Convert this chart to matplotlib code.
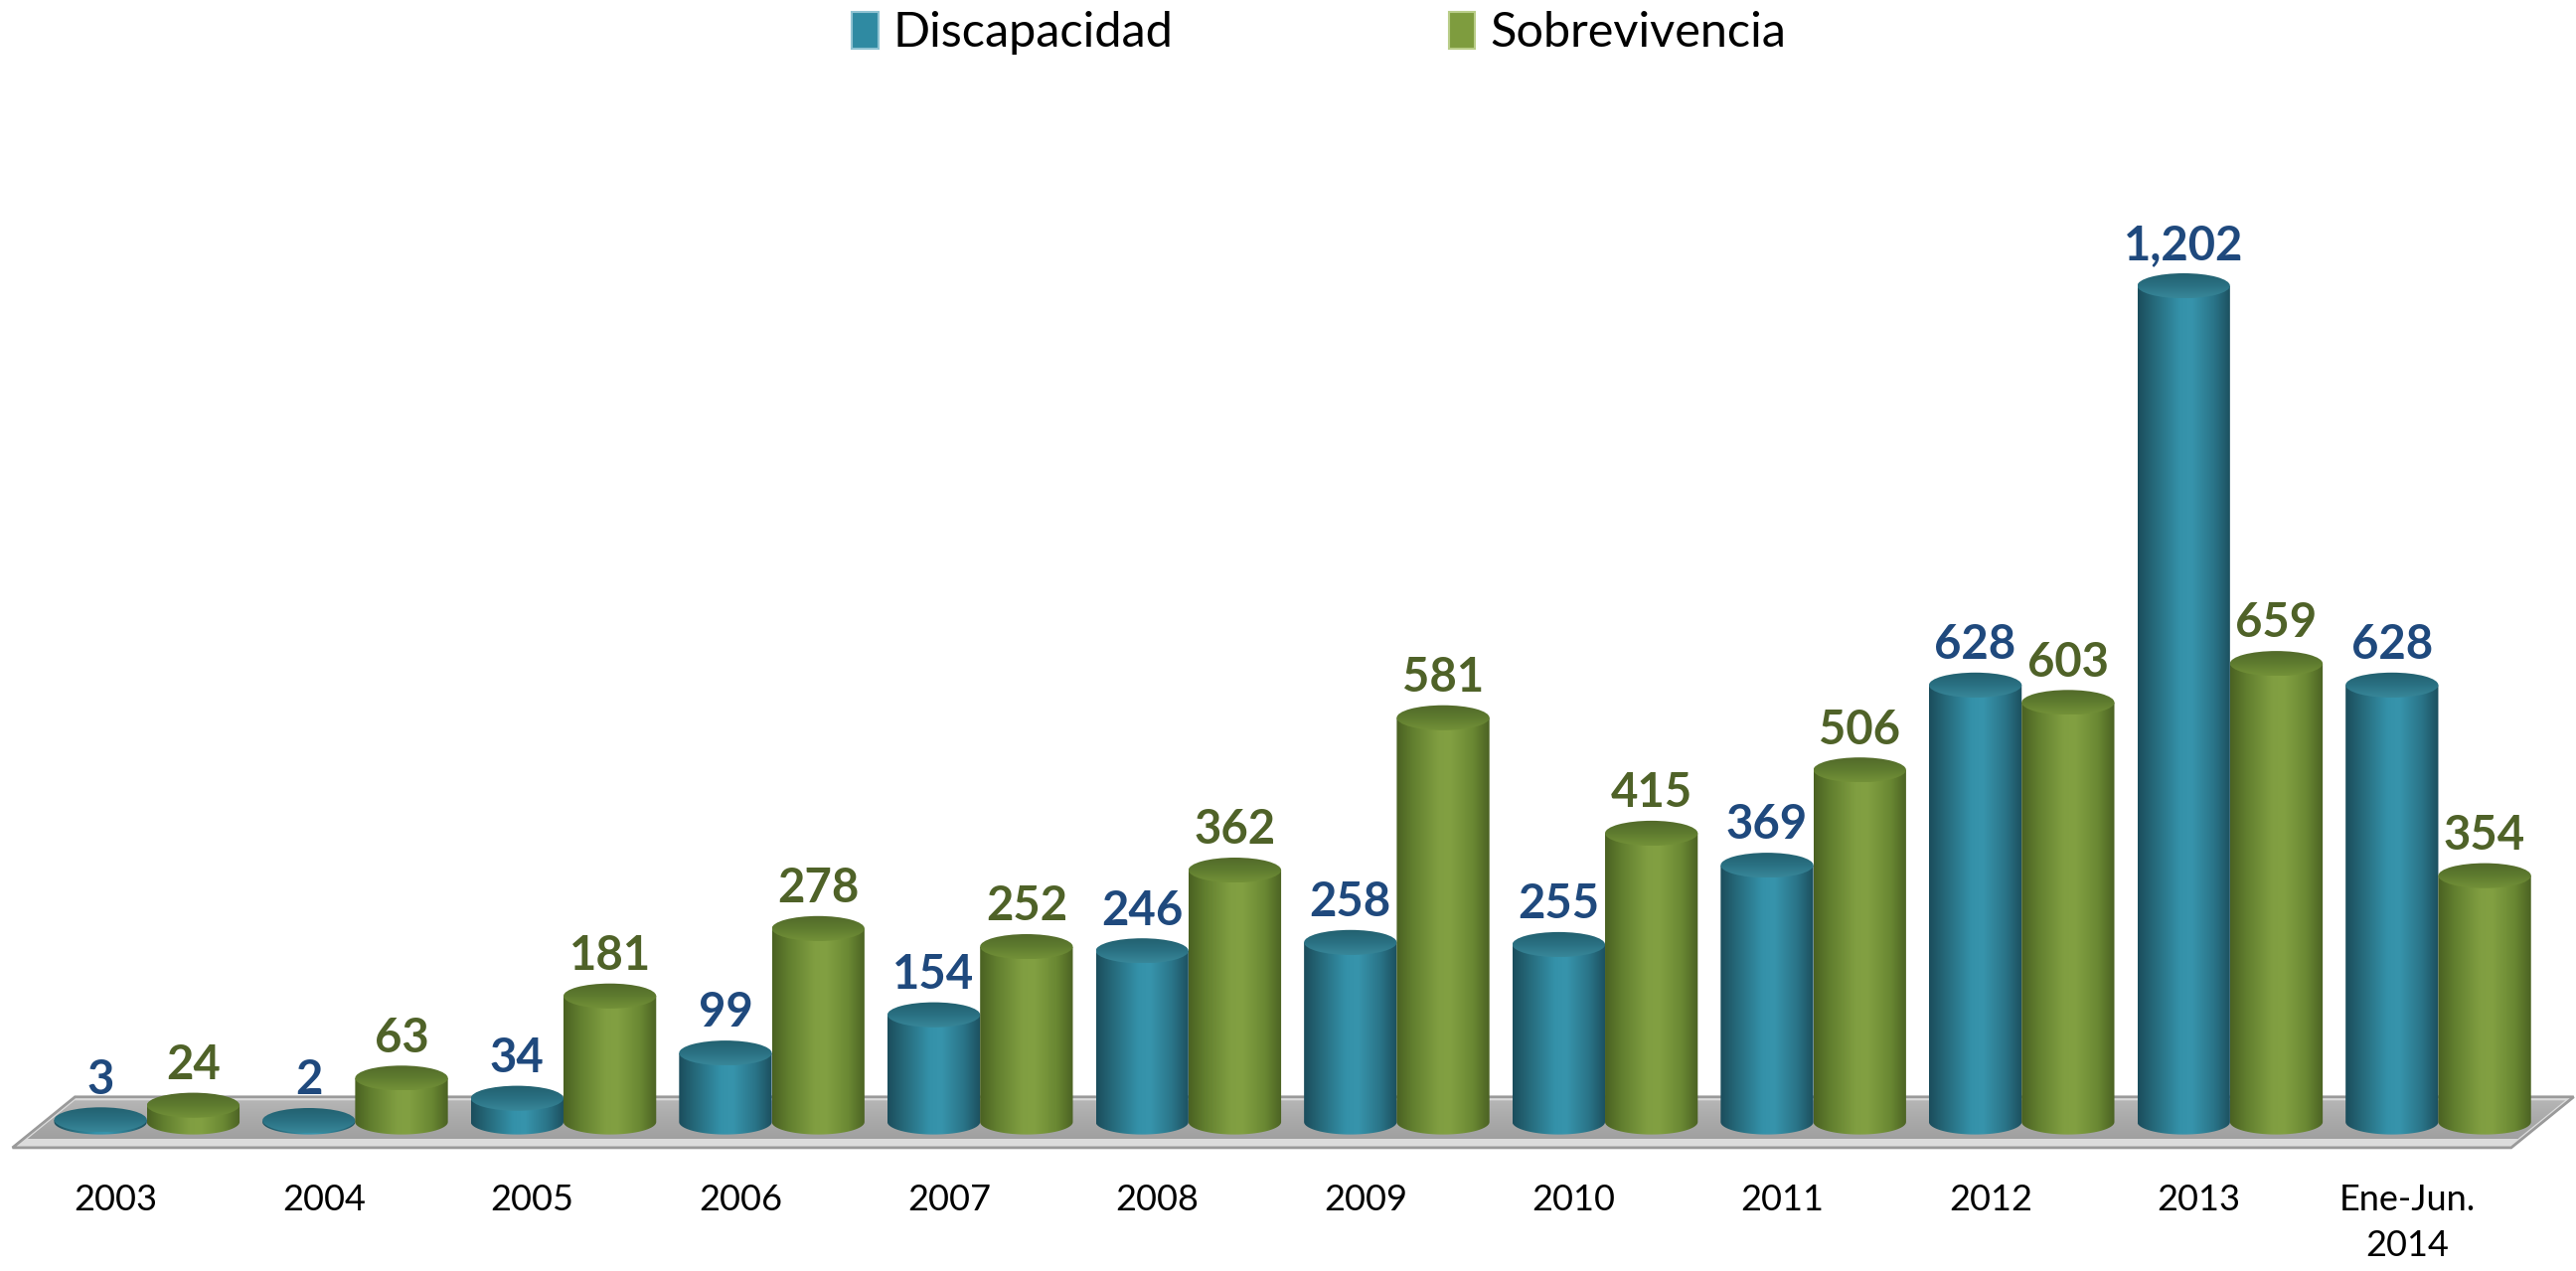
import numpy as np
import matplotlib.pyplot as plt
from matplotlib.patches import Ellipse, PathPatch, Polygon, Patch
from matplotlib.path import Path
from matplotlib.colors import LinearSegmentedColormap

plt.rcParams['font.family'] = ['Lato', 'DejaVu Sans']

# --- datos ---
categorias = ["2003", "2004", "2005", "2006", "2007", "2008", "2009",
              "2010", "2011", "2012", "2013", "Ene-Jun.\n2014"]
discapacidad = [3, 2, 34, 99, 154, 246, 258, 255, 369, 628, 1202, 628]
sobrevivencia = [24, 63, 181, 278, 252, 362, 581, 415, 506, 603, 659, 354]
series = ["Discapacidad", "Sobrevivencia"]

# --- estilo ---
W = 0.445          # ancho de cada cilindro (unidades de categoria)
ELL_H = 36         # alto de la elipse (unidades de datos)
azul_cmap = LinearSegmentedColormap.from_list(
    "azul", [(0, "#1B4D5C"), (0.18, "#266A7B"), (0.45, "#3491A9"),
             (0.58, "#3794AC"), (0.82, "#2A7488"), (1, "#1C4F5E")])
verde_cmap = LinearSegmentedColormap.from_list(
    "verde", [(0, "#4A6122"), (0.18, "#627F2F"), (0.45, "#809E41"),
              (0.58, "#82A042"), (0.82, "#6A8833"), (1, "#4B6223")])
azul_top = LinearSegmentedColormap.from_list("azt", ["#22606F", "#2A7082", "#388799"])
verde_top = LinearSegmentedColormap.from_list("vet", ["#52692A", "#5E7B2F", "#739138"])
color_lbl = ["#1F497D", "#4F6228"]

fig = plt.figure(figsize=(25.92, 12.79), dpi=100)
ax = fig.add_axes([0, 0, 1, 1])


def cilindro(x0, v, cmap, cmap_top, z):
    xc = x0 + W / 2
    t = np.linspace(np.pi, 2 * np.pi, 80)
    arco = list(zip(xc + W / 2 * np.cos(t), ELL_H / 2 * np.sin(t)))
    verts = [(x0, v)] + arco + [(x0 + W, v), (x0, v)]
    cuerpo = PathPatch(Path(verts), facecolor="none", edgecolor="none", zorder=z)
    ax.add_patch(cuerpo)
    grad = np.linspace(0, 1, 256).reshape(1, -1)
    im = ax.imshow(grad, extent=[x0, x0 + W, -ELL_H / 2, v], aspect="auto",
                   cmap=cmap, zorder=z, interpolation="bicubic")
    im.set_clip_path(cuerpo)
    tapa = Ellipse((xc, v), W, ELL_H, facecolor="none", edgecolor="none", zorder=z + 0.2)
    ax.add_patch(tapa)
    gv = np.linspace(0, 1, 64).reshape(-1, 1)
    im2 = ax.imshow(gv, extent=[x0, x0 + W, v - ELL_H / 2, v + ELL_H / 2], aspect="auto",
                    cmap=cmap_top, zorder=z + 0.2, origin="upper", interpolation="bicubic")
    im2.set_clip_path(tapa)


# --- piso ---
n = len(categorias)
fx0, fx1 = -0.645, n - 1 + 0.35
dx = 0.30
y_front, y_back = -37, 36
piso = Polygon([(fx0, y_front), (fx1, y_front), (fx1 + dx, y_back), (fx0 + dx, y_back)],
               closed=True, facecolor="#DCDCDC", edgecolor="#9A9A9A", lw=2, zorder=1)
ax.add_patch(piso)


def borde(x, y):
    return x + dx * (y - y_front) / (y_back - y_front)


yi0, yi1 = -25, 31
interior = Polygon([(borde(fx0, yi0) + 0.02, yi0), (borde(fx1, yi0) - 0.02, yi0),
                    (borde(fx1, yi1) - 0.02, yi1), (borde(fx0, yi1) + 0.02, yi1)],
                   closed=True, facecolor="none", edgecolor="none", zorder=1.1)
ax.add_patch(interior)
gp = np.linspace(0, 1, 64).reshape(-1, 1)
imp = ax.imshow(gp, extent=[fx0, fx1 + dx, yi0, yi1], aspect="auto", origin="lower",
                cmap=LinearSegmentedColormap.from_list("p", ["#A0A0A0", "#AAAAAA", "#B6B6B6"]),
                zorder=1.1)
imp.set_clip_path(interior)

# --- barras ---
x = np.arange(n)
for i in range(n):
    cilindro(x[i] - W, discapacidad[i], azul_cmap, azul_top, 3)
    cilindro(x[i], sobrevivencia[i], verde_cmap, verde_top, 4)
    ax.annotate(f"{discapacidad[i]:,}", (x[i] - W / 2, discapacidad[i]), xytext=(0, 29),
                textcoords="offset points", ha="center", va="center", fontsize=34,
                fontweight="bold", color=color_lbl[0], zorder=6)
    ax.annotate(f"{sobrevivencia[i]:,}", (x[i] + W / 2, sobrevivencia[i]), xytext=(0, 29),
                textcoords="offset points", ha="center", va="center", fontsize=34,
                fontweight="bold", color=color_lbl[1], zorder=6)

ax.set_xlim(-0.705, 11.661)
ax.set_ylim(-150 / 0.70, 1129 / 0.70)
ax.spines["bottom"].set_position(("data", 0))
ax.set_xticks(x - 0.15)
ax.set_xticklabels(categorias, fontsize=26)
for lbl in ax.get_xticklabels():
    lbl.set_linespacing(1.45)
ax.tick_params(axis="x", length=0, pad=45)
ax.set_yticks([])
for s in ax.spines.values():
    s.set_visible(False)
ax.patch.set_alpha(0)

# --- leyenda ---
handles = [Patch(facecolor="#2F8AA2", edgecolor="#8FC3D2", lw=1.5),
           Patch(facecolor="#7E9C3E", edgecolor="#B9CD88", lw=1.5)]
fig.legend(handles, series, loc="center", bbox_to_anchor=(0.512, 1 - 33 / 1279),
           ncol=2, frameon=False, fontsize=35, columnspacing=5.7,
           handlelength=0.55, handleheight=0.8, handletextpad=0.3)

fig.savefig("out.png", dpi=100)
